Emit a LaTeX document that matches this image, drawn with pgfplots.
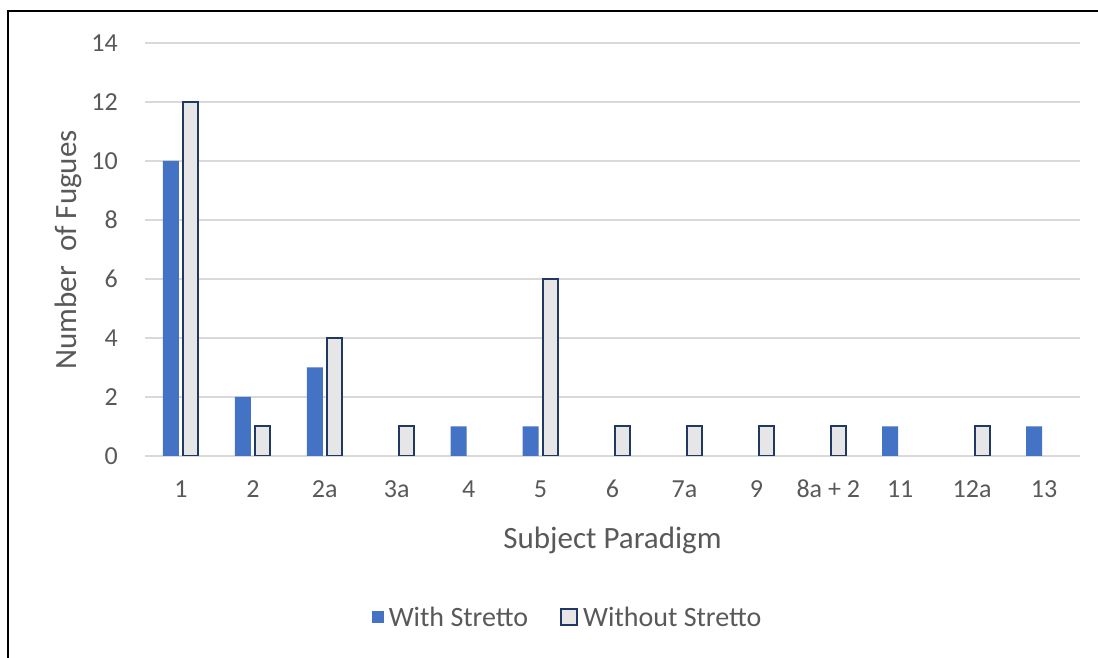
\documentclass[border=0pt]{standalone}
\usepackage{pgfplots}
\pgfplotsset{compat=1.18}
\usepackage{fontspec}
\setmainfont{Carlito}
\definecolor{txt}{HTML}{595959}
\definecolor{withc}{HTML}{4472C4}
\definecolor{grayfill}{HTML}{E7E6E6}
\definecolor{navy}{HTML}{1F3864}
\definecolor{gridc}{HTML}{D9D9D9}
\begin{document}
\begin{tikzpicture}[x=1pt,y=1pt]
\path[use as bounding box] (0,0) rectangle (1098,658);
\draw[line width=2.5pt] (8,0) -- (8,647) -- (1098,647);
\begin{axis}[
  at={(145pt,202pt)}, anchor=south west,
  scale only axis, width=935pt, height=413pt,
  xmin=-0.5, xmax=12.5, ymin=0, ymax=14,
  ytick={0,2,...,14},
  xtick={0,...,12},
  xticklabels={1,2,2a,3a,4,5,6,7a,9,8a + 2,11,12a,13},
  /pgf/number format/assume math mode=true,
  axis line style={draw=none},
  major tick length=0pt,
  ymajorgrids, grid style={gridc, line width=1.5pt},
  yticklabel style={font=\fontsize{26}{29}\selectfont, text=txt, anchor=east, inner sep=0pt, xshift=-27pt},
  xticklabel style={font=\fontsize{26}{29}\selectfont, text=txt, anchor=base, inner sep=0pt, yshift=-42pt},
  xlabel={Subject Paradigm},
  ylabel={Number\ \ of Fugues},
  xlabel style={font=\fontsize{31}{34}\selectfont, text=txt, anchor=center, at={(axis description cs:0.5,-0.2034)}},
  ylabel style={font=\fontsize{31}{34}\selectfont, text=txt, anchor=center, rotate=0, at={(axis description cs:-0.0824,0.499)}},
  legend columns=2,
  legend style={draw=none, fill=none, font=\fontsize{28}{31}\selectfont, text=txt, at={(rel axis cs:0.452,-0.39)}, anchor=center,
    /tikz/every odd column/.append style={column sep=3pt},
    /tikz/every even column/.append style={column sep=30pt}},
  legend cell align=left,
]
\addplot[ybar, bar width=16pt, bar shift=-10pt, fill=withc, draw=none,
  legend image code/.code={\fill[withc] (0pt,-6pt) rectangle (12pt,6pt);}]
  coordinates {(0,10) (1,2) (2,3) (4,1) (5,1) (10,1) (12,1)};
\addlegendentry{With Stretto}
\addplot[ybar, bar width=15pt, bar shift=10pt, fill=grayfill, draw=navy, line width=2pt,
  legend image code/.code={\draw[fill=grayfill, draw=navy, line width=2pt] (0pt,-8pt) rectangle (16pt,8pt);}]
  coordinates {(0,12) (1,1) (2,4) (3,1) (5,6) (6,1) (7,1) (8,1) (9,1) (11,1)};
\addlegendentry{Without Stretto}
\end{axis}
\end{tikzpicture}
\end{document}
